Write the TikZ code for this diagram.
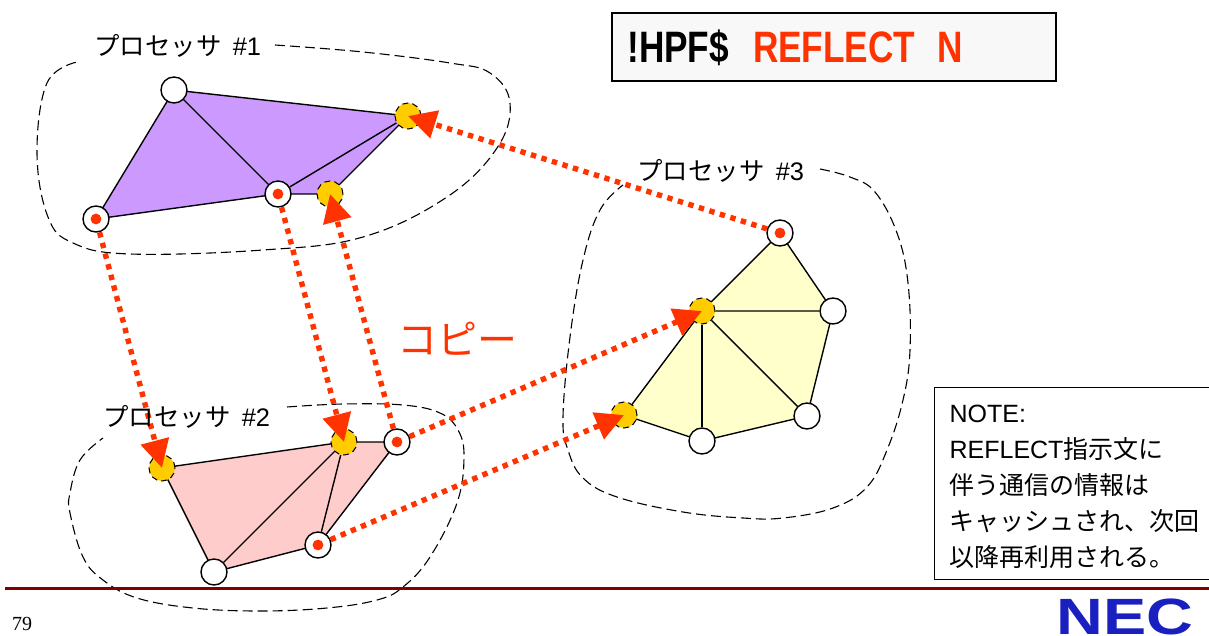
\documentclass[tikz,border=0pt]{standalone}
\usepackage{fontspec}
\setmainfont{Liberation Sans}
\newfontfamily\jpfont{Noto Sans CJK JP}
\newfontfamily\numfont{Liberation Serif}
\usetikzlibrary{arrows.meta,backgrounds}
\definecolor{copyred}{HTML}{FF3300}
\definecolor{meshpurple}{HTML}{CC99FF}
\definecolor{meshpink}{HTML}{FFCCCC}
\definecolor{meshyellow}{HTML}{FFFFCC}
\definecolor{ghostgold}{HTML}{FFCC00}
\definecolor{footred}{HTML}{800000}
\definecolor{necblue}{HTML}{1A1FC0}
\definecolor{titlefill}{HTML}{F8F8F8}
\tikzset{
  vertex/.style={circle,draw=black,fill=white,line width=0.7pt,
                 minimum size=13pt,inner sep=0pt},
  srcvertex/.style={vertex,path picture={
      \fill[copyred] (path picture bounding box.center) circle (2.7pt);}},
  ghost/.style={circle,draw=black,fill=ghostgold,line width=0.5pt,
                densely dashed,minimum size=13pt,inner sep=0pt},
  mesh/.style={draw=black,line width=0.7pt,line join=round},
  blob/.style={draw=black,line width=0.55pt,dash pattern=on 5pt off 2.5pt},
  copyarr/.style={-{Triangle[length=14pt,width=14pt]},draw=copyred,
                  line width=2.7pt,dash pattern=on 2.7pt off 2.8pt},
  proclabel/.style={font=\fontsize{12.7}{15}\selectfont,inner sep=0pt,anchor=west},
  notebox/.style={draw=black,fill=white,line width=0.6pt,anchor=north west,
                  align=left,inner xsep=0pt,inner ysep=5.5pt,text width=142pt,
                  font=\fontsize{12.5}{18}\selectfont}
}
\begin{document}
\begin{tikzpicture}[x=0.5pt,y=-0.5pt]
    \useasboundingbox (0,0) rectangle (1209,636);
    % processor 1
    \node[vertex] (a1) at (174,90) {};
    \node[ghost] (a2) at (408,116) {};
    \node[ghost] (a3) at (330,194) {};
    \node[srcvertex] (a4) at (278,194) {};
    \node[srcvertex] (a5) at (96,219) {};
    % processor 2
    \node[ghost] (b1) at (162,468) {};
    \node[ghost] (b2) at (344,442) {};
    \node[srcvertex] (b3) at (397,442) {};
    \node[srcvertex] (b4) at (318,545) {};
    \node[vertex] (b5) at (214,572) {};
    % processor 3
    \node[srcvertex] (c1) at (780,233) {};
    \node[vertex] (c2) at (833,311) {};
    \node[ghost] (c3) at (702,311) {};
    \node[vertex] (c4) at (807,416) {};
    \node[vertex] (c5) at (702,441) {};
    \node[ghost] (c6) at (624,415) {};
    \begin{scope}[on background layer]
      \draw[blob] plot[smooth,tension=0.65] coordinates {(275,45) (363,52) (450,63) (490,73)
        (510,103) (497,148) (447,197) (363,237) (263,250) (130,254) (73,243) (48,217)
        (37,153) (47,83) (77,62)};
      \draw[blob] plot[smooth,tension=0.65] coordinates {(287,407) (343,404) (403,405) (440,413)
        (458,430) (464,457) (457,503) (430,557) (403,587) (377,600) (327,608) (260,611)
        (193,608) (137,598) (103,580) (83,557) (70,513) (70,493) (80,460) (103,438)};
      \draw[blob] plot[smooth,tension=0.65] coordinates {(820,169) (850,177) (875,192) (897,233)
        (908,283) (910,350) (903,400) (887,450) (867,487) (833,508) (783,518) (743,518)
        (683,512) (617,497) (583,478) (568,450) (563,417) (570,337) (583,260) (600,210)
        (623,185)};
      \draw[mesh,fill=meshpurple] (a1.center) -- (a2.center) -- (a3.center) -- (a4.center)
        -- (a5.center) -- cycle;
      \draw[mesh] (a1) -- (a4) -- (a2);
      \draw[mesh,fill=meshpink] (b1.center) -- (b2.center) -- (b3.center) -- (b4.center)
        -- (b5.center) -- cycle;
      \draw[mesh] (b5) -- (b2) -- (b4);
      \draw[mesh,fill=meshyellow] (c1.center) -- (c2.center) -- (c4.center) -- (c5.center)
        -- (c6.center) -- (c3.center) -- cycle;
      \draw[mesh] (c2) -- (c3) -- (c4);
      \draw[mesh] (c3) -- (c5);
    \end{scope}
    % copies
    \draw[copyarr] (a5) -- (b1.center);
    \draw[copyarr] (a4) -- (b2.center);
    \draw[copyarr] (b3) -- (a3.center);
    \draw[copyarr] (c1) -- (a2.center);
    \draw[copyarr] (b3) -- (c3.center);
    \draw[copyarr] (b4) -- (c6.center);
    \node[proclabel] (label1) at (94,46) {\jpfont プロセッサ\ \ \fontspec{Liberation Sans}\#1};
    \node[proclabel] (label2) at (103,417) {\jpfont プロセッサ\ \ \fontspec{Liberation Sans}\#2};
    \node[proclabel] (label3) at (637,171) {\jpfont プロセッサ\ \ \fontspec{Liberation Sans}\#3};
    \node[font=\fontsize{20}{22}\jpfont,text=copyred,inner sep=0pt] (copylabel) at (457,339) {コピー};
    \node[draw=black,fill=titlefill,line width=0.8pt,minimum width=222pt,minimum height=34pt,
          anchor=north west,inner sep=0pt] (titlebox) at (611,12) {};
    \node[font=\fontsize{22}{24}\bfseries\selectfont,anchor=base west,inner sep=0pt,xscale=0.8]
      (title) at (627,63) {!HPF\$\hspace{15pt}\textcolor{copyred}{REFLECT\hspace{14pt}N}};
    \node[notebox] (note) at (934,387) {\rule{0pt}{12pt}\hspace*{7.5pt}NOTE:\\
      \hspace*{7.5pt}REFLECT{\jpfont 指示文に}\\
      \hspace*{7.5pt}{\jpfont 伴う通信の情報は}\\
      \hspace*{7.5pt}{\jpfont キャッシュされ、次回}\\
      \hspace*{7.5pt}{\jpfont 以降再利用される。}};
    % footer
    \coordinate (footl) at (5,588);
    \coordinate (footr) at (1209,588);
    \draw[footred,line width=1.5pt] (footl) -- (footr);
    \node[font=\fontsize{10}{12}\numfont,inner sep=0pt] (pageno) at (22,624) {79};
    \node[font=\fontsize{25.5}{26}\bfseries\selectfont,text=necblue,anchor=base west,
          inner sep=0pt,xscale=1.27] (logo) at (1056,634.5) {NEC};
\end{tikzpicture}
\end{document}
